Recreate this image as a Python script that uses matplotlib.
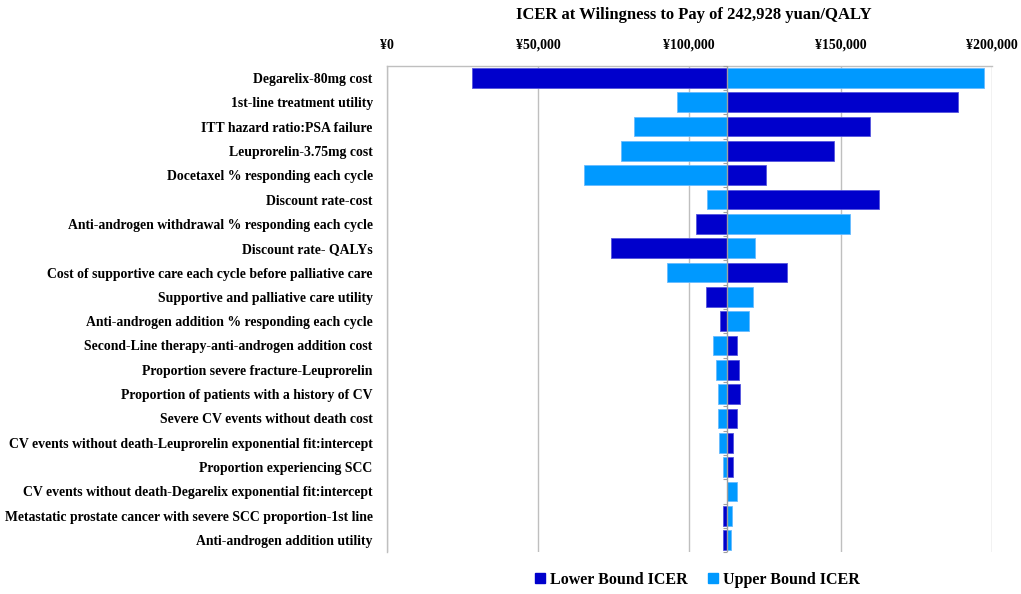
import matplotlib
matplotlib.use("Agg")
import matplotlib.pyplot as plt
from matplotlib.patches import Patch
import numpy as np

plt.rcParams['font.family'] = ['Liberation Serif', 'DejaVu Serif']
plt.rcParams['font.weight'] = 'bold'

categories = [
    "Degarelix-80mg cost",
    "1st-line treatment utility",
    "ITT hazard ratio:PSA failure",
    "Leuprorelin-3.75mg cost",
    "Docetaxel % responding each cycle",
    "Discount rate-cost",
    "Anti-androgen withdrawal % responding each cycle",
    "Discount rate- QALYs",
    "Cost of supportive care each cycle before palliative care",
    "Supportive and palliative care utility",
    "Anti-androgen addition % responding each cycle",
    "Second-Line therapy-anti-androgen addition cost",
    "Proportion severe fracture-Leuprorelin",
    "Proportion of patients with a history of CV",
    "Severe CV events without death cost",
    "CV events without death-Leuprorelin exponential fit:intercept",
    "Proportion experiencing SCC",
    "CV events without death-Degarelix exponential fit:intercept",
    "Metastatic prostate cancer with severe SCC proportion-1st line",
    "Anti-androgen addition utility",
]
base_icer = 112550
lower_icer = [28200, 188800, 159800, 147800, 125500, 162800, 102300, 74000, 132400, 105400,
              110100, 115800, 116300, 116600, 115900, 114600, 114400, 112550, 111300, 111000]
upper_icer = [197200, 95900, 81800, 77600, 65300, 105700, 153200, 121600, 92800, 121200,
              119800, 107900, 108800, 109500, 109500, 109900, 111100, 115700, 114100, 113700]
xticks = [0, 50000, 100000, 150000, 200000]
xtick_labels = ["¥0", "¥50,000", "¥100,000", "¥150,000", "¥200,000"]
title = "ICER at Wilingness to Pay of 242,928 yuan/QALY"

dark = "#0000CC"
light = "#0099FF"

fig = plt.figure(figsize=(10.21, 5.94), dpi=100)
ax = fig.add_axes([0.3786, 0.0702, 0.9716 - 0.3786, 0.8894 - 0.0702])

n = len(categories)
y = np.arange(n)
lower = np.array(lower_icer, dtype=float)
upper = np.array(upper_icer, dtype=float)

ax.barh(y, upper - base_icer, left=base_icer, height=0.82, color=light,
        edgecolor="#66BBFF", linewidth=0.6, zorder=2)
ax.barh(y, lower - base_icer, left=base_icer, height=0.82, color=dark,
        edgecolor="#5555DD", linewidth=0.6, zorder=2)

ax.set_ylim(n - 0.5, -0.5)
ax.set_xlim(0, 200000)
ax.set_yticks(y)
ax.set_yticklabels(categories, fontsize=9.9, fontweight='bold')
ax.tick_params(axis='y', length=0, pad=10)

ax.xaxis.tick_top()
ax.set_xticks(xticks)
ax.set_xticklabels(xtick_labels, fontsize=10, fontweight='bold')
ax.tick_params(axis='x', length=0, pad=10)

ax.grid(axis='x', color="#BFBFBF", linewidth=1.0, zorder=0)
ax.set_axisbelow(True)
for side in ['bottom', 'right']:
    ax.spines[side].set_visible(False)
for side in ['top', 'left']:
    ax.spines[side].set_color("#BFBFBF")
    ax.spines[side].set_linewidth(1.0)

# category axis at base value
ax.axvline(base_icer, color="#A0A0A0", linewidth=1.0, zorder=3)
bounds = np.arange(n + 1) - 0.5
ax.plot([base_icer] * len(bounds), bounds, ls='', marker=0, markersize=3,
        markeredgecolor="#A0A0A0", markeredgewidth=0.8, zorder=3, clip_on=False)

fig.text(0.68, 0.975, title, ha='center', va='center', fontsize=12, fontweight='bold')

handles = [Patch(facecolor=dark, edgecolor=dark, label="Lower Bound ICER"),
           Patch(facecolor=light, edgecolor=light, label="Upper Bound ICER")]
fig.legend(handles=handles, loc='center', bbox_to_anchor=(0.683, 0.0236), ncol=2,
           frameon=False, prop={'size': 11.5, 'weight': 'bold'},
           handlelength=0.6, handleheight=0.6, handletextpad=0.3, columnspacing=1.3)

fig.savefig("out.png", dpi=100)
